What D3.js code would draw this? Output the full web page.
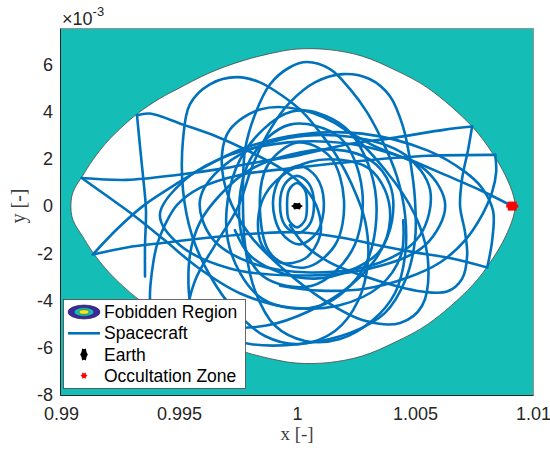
<!DOCTYPE html>
<html><head><meta charset="utf-8">
<script src="https://cdn.jsdelivr.net/npm/d3@7"></script>
<style>body{margin:0;background:#fff}svg{display:block}</style>
</head><body>
<svg id="c" width="550" height="453"></svg>
<script>
// ---------- data ----------
const xDomain = [0.99, 1.01];
const yDomain = [-8, 7.5];             // y in units of 1e-3
const xTicks = [0.99, 0.995, 1, 1.005, 1.01];
const xTickLabels = ["0.99", "0.995", "1", "1.005", "1.01"];
const yTicks = [-8, -6, -4, -2, 0, 2, 4, 6];
const yTickLabels = ["-8", "-6", "-4", "-2", "0", "2", "4", "6"];
const legendLabels = ["Fobidden Region", "Spacecraft", "Earth", "Occultation Zone"];

// forbidden-region boundary (x, y*1e3)
const boundaryUpper = [[0.99042,0],[0.99046,0.43],[0.99059,0.77],[0.99089,1.24],[0.99135,1.96],[0.99208,2.86],[0.99322,3.90],[0.99419,4.56],[0.99492,4.95],[0.99631,5.65],[0.99771,6.16],[0.99915,6.52],[1.0,6.65],[1.00131,6.63],[1.00276,6.35],[1.00416,5.76],[1.00556,4.99],[1.00742,3.37],[1.00827,2.26],[1.00882,1.32],[1.00916,0.47],[1.00924,0]];
const boundaryLower = [[1.00916,-0.47],[1.00882,-1.32],[1.00827,-2.26],[1.00742,-3.37],[1.00556,-4.99],[1.00416,-5.76],[1.00276,-6.35],[1.00131,-6.63],[1.0,-6.65],[0.99915,-6.52],[0.99771,-6.16],[0.99631,-5.65],[0.99492,-4.95],[0.99419,-4.56],[0.99322,-3.90],[0.99208,-2.86],[0.99135,-1.96],[0.99089,-1.24],[0.99059,-0.77],[0.99046,-0.43]];

const earthPos = [1.0, 0];
const occultationPos = [1.00912, 0];

// spacecraft trajectory pieces (x, y*1e3)
const arcStart = [[0.99356,-2.98],[0.99356,-1.66],[0.99360,-0.17],[0.99347,1.32],[0.99334,2.60],[0.99322,3.85]];
const arcA = [[0.99322,3.85],[0.99377,3.92],[0.99517,3.45],[0.99661,2.94],[0.99801,2.30],[0.99941,1.54],[1.00034,0.77],[1.00089,-0.17],[1.00098,-1.24],[1.00034,-2.22],[0.99928,-2.39],[0.99852,-1.66],[0.99835,-0.60],[0.99864,0.47],[0.99941,1.32],[1.00055,1.88],[1.00182,1.96],[1.00301,1.62],[1.00373,0.68],[1.00394,-0.60],[1.00352,-1.88],[1.00225,-2.73],[1.00076,-3.07],[0.99928,-2.81],[0.99801,-2.09],[0.99737,-1.02]];
const arcWideTop = [[0.99135,-2.05],[0.99241,-0.94],[0.99347,0.00],[0.99462,0.77],[0.99589,1.54],[0.99758,2.39],[1.00013,3.03],[1.00276,3.07],[1.00555,2.35],[1.00712,1.45],[1.00784,0.77],[1.00831,-0.21],[1.00827,-1.45],[1.00806,-2.60]];
const arcWideArch = [[1.00806,-2.60],[1.00657,-2.22],[1.00500,-1.96],[1.00343,-1.66],[1.00204,-1.36],[1.00013,-1.11],[0.99843,-1.15],[0.99644,-1.32],[0.99449,-1.54],[0.99279,-1.75],[0.99135,-2.05]];
const arcF1 = [[0.99088,1.19],[0.99279,1.11],[0.99491,1.32],[0.99703,1.62],[0.99843,1.88],[1.00013,2.17],[1.00204,2.60],[1.00416,2.90],[1.00628,3.24],[1.00742,3.37]];
const arcF1Down = [[0.99088,1.19],[0.99207,0.34],[0.99313,-0.43],[0.99440,-1.45],[0.99580,-2.60],[0.99760,-3.70],[0.99970,-4.30],[1.00180,-4.20],[1.00350,-3.40],[1.00440,-2.10],[1.00450,-0.60]];
const arcF2 = [[1.00840,2.17],[1.00555,2.13],[1.00276,1.92],[0.99992,1.62],[0.99758,1.32],[0.99589,0.77],[0.99491,0.04],[0.99440,-0.81],[0.99406,-1.66],[0.99385,-2.81],[0.99377,-3.92],[0.99398,-5.29]];
const arcF2Down = [[1.00840,2.17],[1.00844,1.45],[1.00827,0.60],[1.00784,-0.38],[1.00712,-1.45],[1.00606,-2.39],[1.00458,-3.07],[1.00288,-3.50],[1.00098,-3.58],[0.99928,-3.37]];
const arcRight = [[1.00742,3.37],[1.00725,2.39],[1.00700,1.19],[1.00691,0],[1.00712,-1.11],[1.00721,-2.09],[1.00700,-3.07],[1.00636,-3.62],[1.00530,-3.62],[1.00416,-3.37],[1.00276,-2.94],[1.00140,-2.39],[1.00034,-1.66],[0.99970,-0.81]];
const arcEnd = [[1.00204,3.24],[1.00343,2.47],[1.00488,1.92],[1.00628,1.32],[1.00784,0.64],[1.00912,0]];

const loopA1 = [[1.0,0.98],[1.00034,0.68],[1.00042,0.04],[1.00034,-0.60],[1.0,-0.90],[0.99966,-0.60],[0.99958,0.04],[0.99966,0.68]];
const loopA2 = [[1.0,1.28],[1.00051,0.94],[1.00072,0.09],[1.00051,-0.81],[1.0,-1.15],[0.99949,-0.81],[0.99928,0.09],[0.99949,0.94]];
const loopA3 = [[1.00008,1.71],[1.00081,1.24],[1.00114,0.13],[1.00085,-1.11],[1.00008,-1.62],[0.99932,-1.11],[0.99898,0.13],[0.99932,1.24]];
const loopB1 = [[1.00004,2.69],[1.00140,2.09],[1.00199,0.26],[1.00161,-1.66],[1.00034,-2.60],[0.99894,-2.09],[0.99843,-0.17],[0.99877,1.75]];
const loopB2 = [[0.99970,3.45],[1.00182,2.90],[1.00276,0.68],[1.00233,-1.88],[1.00064,-3.37],[0.99852,-2.94],[0.99758,-0.81],[0.99801,1.96]];
const loopB3 = [[0.99979,4.01],[1.00204,3.33],[1.00331,0.68],[1.00288,-2.52],[1.00098,-4.22],[0.99852,-3.92],[0.99707,-1.45],[0.99758,1.96]];
const loopC1 = [[0.99517,0.68],[0.99517,2.81],[0.99546,4.31],[0.99631,5.16],[0.99746,5.46],[0.99843,5.24],[0.99941,4.65],[1.00025,3.97],[1.00098,3.11],[1.00170,2.09],[1.00233,0.90],[1.00288,-0.60],[1.00301,-2.30],[1.00259,-4.01],[1.00161,-5.29],[1.00013,-5.84],[0.99864,-5.50],[0.99737,-4.43],[0.99631,-2.94],[0.99555,-1.24]];
const loopC2 = [[0.99771,0.26],[0.99780,2.39],[0.99822,3.88],[0.99886,5.16],[0.99970,5.88],[1.00042,6.10],[1.00140,5.80],[1.00225,4.95],[1.00297,3.97],[1.00365,2.69],[1.00424,1.24],[1.00458,-0.38],[1.00458,-2.09],[1.00416,-3.67],[1.00318,-4.86],[1.00182,-5.63],[1.00034,-5.71],[0.99907,-5.07],[0.99822,-3.58],[0.99780,-1.66]];
const loopC3 = [[1.00195,5.59],[1.00310,5.37],[1.00394,4.65],[1.00449,3.37],[1.00479,1.96],[1.00500,0.26],[1.00500,-1.45],[1.00458,-3.16],[1.00373,-4.52],[1.00225,-5.37],[1.00013,-5.84],[0.99801,-5.84],[0.99631,-5.29],[0.99546,-4.43],[0.99568,-3.16],[0.99652,-1.66],[0.99750,-0.04],[0.99813,1.75],[0.99886,3.24],[0.99970,4.39],[1.00076,5.24]];
const loopL2 = [[0.99546,-4.01],[0.99546,-2.09],[0.99589,-0.68],[0.99674,0.47],[0.99801,1.54],[0.99970,2.17],[1.00161,2.39],[1.00310,1.96],[1.00394,0.90],[1.00403,-0.60],[1.00343,-2.09],[1.00225,-3.37],[1.00055,-4.43],[0.99864,-5.07],[0.99674,-5.07],[0.99568,-4.65]];
const loopD1 = [[0.99716,3.24],[0.99843,4.09],[1.00013,4.09],[1.00204,3.24],[1.00373,1.54],[1.00500,-0.38],[1.00555,-2.30],[1.00530,-4.22],[1.00437,-4.95],[1.00288,-4.86],[1.00119,-4.01],[0.99949,-2.73],[0.99801,-1.24],[0.99707,0.47],[0.99682,2.17]];
const loopW3 = [[0.99419,-0.38],[0.99525,1.11],[0.99716,2.17],[1.00013,2.73],[1.00310,2.47],[1.00543,1.54],[1.00628,0.04],[1.00543,-1.66],[1.00310,-2.64],[1.00013,-2.94],[0.99716,-2.64],[0.99504,-1.66]];
const loopW4 = [[0.99589,0.26],[0.99695,1.75],[0.99928,2.81],[1.00225,2.94],[1.00458,2.17],[1.00564,0.68],[1.00521,-1.24],[1.00352,-2.39],[1.00055,-2.81],[0.99801,-2.39],[0.99640,-1.36]];

const openArcs = [arcStart, arcA, arcWideTop, arcWideArch, arcF1, arcF1Down, arcF2, arcF2Down, arcRight, arcEnd];
const closedLoops = [loopA1, loopA2, loopA3, loopB1, loopB2, loopB3, loopC1, loopC2, loopC3, loopL2, loopD1, loopW3, loopW4];

// ---------- drawing ----------
const TEAL = "rgb(20,190,183)", BLUE = "#0072BD", AX = "#262626";
const FONT = "'Liberation Sans', Arial, Helvetica, sans-serif";
const SERIF = "'Liberation Serif', 'Times New Roman', serif";
const X0 = 61, X1 = 533, Y0 = 29, Y1 = 395;
const svg = d3.select("#c");
const x = d3.scaleLinear().domain(xDomain).range([X0, X1]);
const y = d3.scaleLinear().domain(yDomain).range([Y1, Y0]);

svg.append("defs").append("clipPath").attr("id", "clip")
  .append("rect").attr("x", X0).attr("y", Y0).attr("width", X1 - X0).attr("height", Y1 - Y0);
const plot = svg.append("g").attr("clip-path", "url(#clip)");

plot.append("rect").attr("x", X0).attr("y", Y0).attr("width", X1 - X0).attr("height", Y1 - Y0).attr("fill", TEAL);

const lineClosed = d3.line().x(d => x(d[0])).y(d => y(d[1])).curve(d3.curveCatmullRomClosed);
const lineOpen = d3.line().x(d => x(d[0])).y(d => y(d[1])).curve(d3.curveCatmullRom);

plot.append("path").datum(boundaryUpper.concat(boundaryLower)).attr("d", lineClosed)
  .attr("fill", "#fff").attr("stroke", "#4a4a4a").attr("stroke-width", 0.8);

closedLoops.forEach(l => plot.append("path").datum(l).attr("d", lineClosed)
  .attr("fill", "none").attr("stroke", BLUE).attr("stroke-width", 2.6));
openArcs.forEach(l => plot.append("path").datum(l).attr("d", lineOpen)
  .attr("fill", "none").attr("stroke", BLUE).attr("stroke-width", 2.6).attr("stroke-linecap", "round"));

function starPath(cx, cy, rx, ry, n, inner) {
  const p = d3.path();
  for (let i = 0; i < 2 * n; i++) {
    const a = Math.PI * i / n, r = (i % 2 ? inner : 1);
    const px = cx + rx * r * Math.cos(a), py = cy + ry * r * Math.sin(a);
    if (i === 0) p.moveTo(px, py); else p.lineTo(px, py);
  }
  p.closePath();
  return p.toString();
}
// Earth
plot.append("path").attr("d", starPath(x(earthPos[0]), y(earthPos[1]), 6, 4, 6, 0.72)).attr("fill", "#000");
// Occultation zone
plot.append("rect").attr("x", x(occultationPos[0]) - 4.5).attr("y", y(occultationPos[1]) - 4.5)
  .attr("width", 9).attr("height", 9).attr("fill", "#ff0000");
plot.append("rect").attr("x", x(occultationPos[0]) - 6).attr("y", y(occultationPos[1]) - 1.5)
  .attr("width", 12).attr("height", 3).attr("fill", "#ff0000");

// axes box
svg.append("rect").attr("x", X0 - 0.5).attr("y", Y0 - 0.5).attr("width", X1 - X0 + 1).attr("height", Y1 - Y0 + 1)
  .attr("fill", "none").attr("stroke", "#666").attr("stroke-width", 0.7);
svg.append("line").attr("x1", X0 - 0.5).attr("x2", X0 - 0.5).attr("y1", Y0).attr("y2", Y1 + 0.5).attr("stroke", AX);
svg.append("line").attr("x1", X0 - 0.5).attr("x2", X1 + 0.5).attr("y1", Y1 + 0.5).attr("y2", Y1 + 0.5).attr("stroke", AX);

// tick labels via d3 axes
const gx = svg.append("g").attr("transform", `translate(0,${Y1})`)
  .call(d3.axisBottom(x).tickValues(xTicks).tickFormat((d, i) => xTickLabels[i]).tickSize(0).tickPadding(12));
gx.select(".domain").remove();
gx.attr("font-size", 18).attr("font-family", FONT);
gx.selectAll("text").attr("fill", AX);

const gy = svg.append("g").attr("transform", `translate(${X0},0)`)
  .call(d3.axisLeft(y).tickValues(yTicks).tickFormat((d, i) => yTickLabels[i]).tickSize(0).tickPadding(8));
gy.select(".domain").remove();
gy.attr("font-size", 18).attr("font-family", FONT);
gy.selectAll("text").attr("fill", AX);

// exponent
const ex = svg.append("text").attr("x", 62).attr("y", 25).attr("font-family", FONT).attr("font-size", 18).attr("fill", AX);
ex.append("tspan").text("\u00d710");
ex.append("tspan").attr("font-size", 13).attr("dy", -9).text("-3");

// axis labels
svg.append("text").attr("x", 297).attr("y", 440).attr("text-anchor", "middle")
  .attr("font-family", SERIF).attr("font-size", 19).attr("fill", "#404040").text("x [-]");
svg.append("text").attr("transform", "translate(25,206) rotate(-90)").attr("text-anchor", "middle")
  .attr("font-family", SERIF).attr("font-size", 20).attr("fill", "#404040").text("y [-]");

// legend
const lg = svg.append("g");
lg.append("rect").attr("x", 63.5).attr("y", 299.5).attr("width", 182).attr("height", 89)
  .attr("fill", "#fff").attr("stroke", "#444").attr("stroke-width", 0.8);
const rows = [312, 333.3, 354.5, 375.7];
lg.append("ellipse").attr("cx", 84).attr("cy", rows[0]).attr("rx", 16).attr("ry", 7).attr("fill", "#3E26A8").attr("stroke", "#222").attr("stroke-width", 0.6);
lg.append("ellipse").attr("cx", 84).attr("cy", rows[0]).attr("rx", 10).attr("ry", 4.4).attr("fill", TEAL).attr("stroke", "#222").attr("stroke-width", 0.5);
lg.append("ellipse").attr("cx", 84).attr("cy", rows[0]).attr("rx", 5).attr("ry", 2.3).attr("fill", "#F2E61B").attr("stroke", "#222").attr("stroke-width", 0.4);
lg.append("line").attr("x1", 68).attr("x2", 100).attr("y1", rows[1]).attr("y2", rows[1]).attr("stroke", BLUE).attr("stroke-width", 2.6);
lg.append("path").attr("d", starPath(84, rows[2], 3.8, 7, 6, 0.75)).attr("fill", "#000");
lg.append("path").attr("d", starPath(84, rows[3], 3.6, 3.6, 6, 0.6)).attr("fill", "#ff0000");
legendLabels.forEach((t, i) => lg.append("text").attr("x", 104).attr("y", rows[i] + 6)
  .attr("font-family", FONT).attr("font-size", 17.5).attr("fill", "#000").text(t));
</script>
</body></html>
